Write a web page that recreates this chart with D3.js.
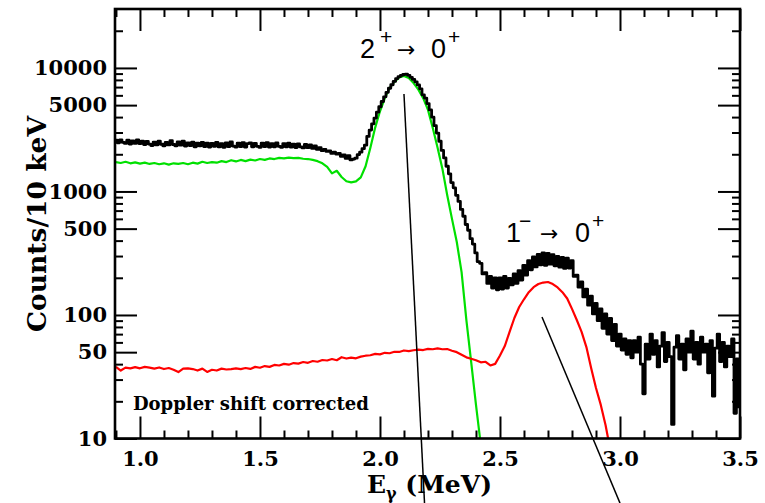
<!DOCTYPE html>
<html>
<head>
<meta charset="utf-8">
<script src="https://cdn.jsdelivr.net/npm/d3@7"></script>
<style>
  body { margin: 0; background: #fff; }
  svg { display: block; }
</style>
</head>
<body>
<svg id="chart" width="765" height="503"></svg>
<script>
// ---- Spectrum data (counts per 10 keV) ----
// Total spectrum, 10 keV bins starting at 0.90 MeV
const totalStart = 0.90;
const totalStep = 0.01;
const totalCounts = [
  2600, 2480, 2620, 2500, 2450, 2600, 2420, 2570, 2450, 2610,
  2440, 2560, 2400, 2540, 2420, 2350, 2510, 2380, 2560, 2410,
  2340, 2500, 2380, 2580, 2400, 2340, 2520, 2370, 2550, 2330,
  2470, 2350, 2510, 2300, 2460, 2340, 2490, 2310, 2460, 2290,
  2450, 2320, 2490, 2300, 2440, 2280, 2470, 2310, 2520, 2330,
  2290, 2460, 2310, 2480, 2290, 2440, 2470, 2300, 2450, 2320,
  2280, 2460, 2310, 2480, 2290, 2440, 2300, 2470, 2320, 2280,
  2440, 2300, 2460, 2290, 2420, 2270, 2430, 2300, 2250, 2400,
  2260, 2380, 2230, 2340, 2190, 2260, 2140, 2190, 2110, 2130,
  2030, 2080, 2010, 2030, 1920, 1980, 1850, 1950, 1800, 1830,
  1860, 1990, 2080, 2220, 2370, 2790, 3140, 3530, 3930, 4380,
  4850, 5350, 5840, 6350, 6850, 7310, 7780, 8200, 8490, 8710,
  8850, 8910, 8690, 8400, 8070, 7720, 7290, 6780, 6060, 5700,
  5150, 4570, 3990, 3410, 2970, 2550, 2150, 1870, 1600, 1390,
  1180, 1070, 930, 830, 715, 630, 540, 485, 415, 375,
  318, 270, 262, 215, 220, 180, 205, 165, 200, 160,
  200, 162, 205, 165, 198, 175, 215, 180, 228, 192,
  252, 210, 275, 232, 295, 245, 310, 255, 318, 252,
  315, 258, 308, 250, 298, 244, 292, 238, 288, 240,
  275, 205, 210, 168, 185, 140, 162, 120, 142, 102,
  124, 90, 112, 78, 102, 70, 94, 62, 84, 56,
  70, 52, 64, 48, 62, 45, 62, 50, 66, 40,
  23, 58, 44, 70, 48, 62, 38, 56, 72, 42,
  60, 46, 13, 55, 68, 44, 58, 36, 64, 50,
  74, 44, 60, 40, 66, 50, 58, 34, 62, 22,
  54, 70, 42, 60, 38, 56, 46, 64, 16, 44,
  18
];

// 2+ -> 0+ component, 20 keV steps starting at 0.90 MeV
const compStep = 0.02;
const twoPlusStart = 0.90;
const twoPlusCounts = [
  1730, 1700, 1740, 1690, 1720, 1680, 1710, 1670, 1700, 1660,
  1690, 1650, 1690, 1670, 1700, 1660, 1710, 1680, 1740, 1700,
  1730, 1710, 1760, 1730, 1790, 1750, 1800, 1760, 1810, 1780,
  1830, 1800, 1850, 1830, 1870, 1850, 1880, 1860, 1870, 1840,
  1830, 1800, 1760, 1690, 1580, 1400, 1470, 1310, 1210, 1185,
  1205, 1300, 1600, 2260, 3290, 4460, 5680, 6860, 7710, 8390,
  8620, 8300, 7540, 6670, 5700, 4570, 3260, 2260, 1530, 935,
  600, 390, 222, 91, 41.5, 18.7, 8.9
];

// 1- -> 0+ component, 20 keV steps starting at 0.90 MeV
const oneMinusStart = 0.90;
const oneMinusCounts = [
  38, 35.5, 37.5, 37, 37.8, 37, 38, 37.5, 36.8, 37.6,
  36.5, 37.2, 36, 34.5, 36.8, 37, 36.5, 35.5, 36.8, 34.6,
  36, 35.5, 36.8, 36.2, 36.5, 37, 36.4, 37.2, 36.6, 38,
  37.4, 38.6, 38, 39.4, 39, 40.2, 39.6, 40.8, 40.4, 41.6,
  41, 42.4, 41.8, 43.2, 42.8, 44, 43, 45.5, 44.4, 45.2,
  44.6, 46, 46.8, 47.2, 48.4, 48, 49.4, 49, 50.4, 50.2,
  51.6, 51, 51.8, 52.4, 52, 53.2, 52.8, 53.6, 52.8, 53,
  51.4, 50, 47.6, 45.4, 44.2, 43, 41.4, 41.8, 39, 40.2,
  47, 56, 73, 94.5, 116, 134, 153, 168, 178, 183,
  185, 178, 167, 153, 136, 112, 91, 73, 55, 37,
  25.6, 18.7, 12.8, 8
];

// ---- Axes ----
const energyDomain = [0.896, 3.5];
const countDomain = [10, 30000];
const energyMajorTicks = [1.0, 1.5, 2.0, 2.5, 3.0, 3.5];
const energyTickLabels = ["1.0", "1.5", "2.0", "2.5", "3.0", "3.5"];
const energyMinorTicks = [0.9, 1.1, 1.2, 1.3, 1.4, 1.6, 1.7, 1.8, 1.9, 2.1, 2.2, 2.3, 2.4,
                          2.6, 2.7, 2.8, 2.9, 3.1, 3.2, 3.3, 3.4];
const countMajorTicks = [10, 50, 100, 500, 1000, 5000, 10000];
const countTickLabels = ["10", "50", "100", "500", "1000", "5000", "10000"];
const countMinorTicks = [20, 30, 40, 60, 70, 80, 90, 200, 300, 400, 600, 700, 800, 900,
                         2000, 3000, 4000, 6000, 7000, 8000, 9000, 20000];

// Pointer lines from the two peaks (energy, counts)
const pointerLines = [
  { e1: 2.100, c1: 6150, e2: 2.1856, c2: 3.0 },
  { e1: 2.675, c1: 96.4, e2: 3.000, c2: 3.0 }
];

const svg = d3.select("#chart");
const L = 115, R = 740, T = 9, B = 438.5;

const x = d3.scaleLinear().domain(energyDomain).range([L, R]);
const y = d3.scaleLog().domain(countDomain).range([B, T]);

const serif = "'DejaVu Serif', serif";
const sans = "'Liberation Sans', Arial, sans-serif";

svg.append("rect").attr("width", 765).attr("height", 503).attr("fill", "#fff");

// clip for spectra
svg.append("clipPath").attr("id", "plotClip")
  .append("rect").attr("x", L).attr("y", T).attr("width", R - L).attr("height", B - T);

const plot = svg.append("g").attr("clip-path", "url(#plotClip)");

const lineTotal = d3.line()
  .x((d, i) => x(totalStart + i * totalStep))
  .y(d => y(d))
  .curve(d3.curveStep);

const lineComp = start => d3.line()
  .x((d, i) => x(start + i * compStep))
  .y(d => y(d));

plot.append("path").datum(twoPlusCounts)
  .attr("d", lineComp(twoPlusStart))
  .attr("fill", "none").attr("stroke", "#00e000").attr("stroke-width", 2.2)
  .attr("stroke-linejoin", "round");

plot.append("path").datum(oneMinusCounts)
  .attr("d", lineComp(oneMinusStart))
  .attr("fill", "none").attr("stroke", "#ff0000").attr("stroke-width", 2.2)
  .attr("stroke-linejoin", "round");

plot.append("path").datum(totalCounts)
  .attr("d", lineTotal)
  .attr("fill", "none").attr("stroke", "#000").attr("stroke-width", 2.8)
  .attr("stroke-linejoin", "round");

// axes with inward ticks
function styleAxis(g) {
  g.select(".domain").remove();
  g.selectAll(".tick line").attr("stroke", "#000").attr("stroke-width", 2);
  g.selectAll(".tick text")
    .attr("font-family", serif).attr("font-weight", "bold")
    .attr("font-size", 21).attr("fill", "#000");
}

// bottom
svg.append("g").attr("transform", `translate(0,${B})`)
  .call(d3.axisBottom(x).tickValues(energyMajorTicks).tickSizeInner(-22).tickSizeOuter(0)
    .tickPadding(13).tickFormat((d, i) => energyTickLabels[i]))
  .call(styleAxis);
svg.append("g").attr("transform", `translate(0,${B})`)
  .call(d3.axisBottom(x).tickValues(energyMinorTicks).tickSizeInner(-8).tickSizeOuter(0).tickFormat(""))
  .call(styleAxis);
// top
svg.append("g").attr("transform", `translate(0,${T})`)
  .call(d3.axisTop(x).tickValues(energyMajorTicks).tickSizeInner(-22).tickSizeOuter(0).tickFormat(""))
  .call(styleAxis);
svg.append("g").attr("transform", `translate(0,${T})`)
  .call(d3.axisTop(x).tickValues(energyMinorTicks).tickSizeInner(-8).tickSizeOuter(0).tickFormat(""))
  .call(styleAxis);
// left
svg.append("g").attr("transform", `translate(${L},0)`)
  .call(d3.axisLeft(y).tickValues(countMajorTicks).tickSizeInner(-22).tickSizeOuter(0)
    .tickPadding(8).tickFormat((d, i) => countTickLabels[i]))
  .call(styleAxis);
svg.append("g").attr("transform", `translate(${L},0)`)
  .call(d3.axisLeft(y).tickValues(countMinorTicks).tickSizeInner(-8).tickSizeOuter(0).tickFormat(""))
  .call(styleAxis);
// right
svg.append("g").attr("transform", `translate(${R},0)`)
  .call(d3.axisRight(y).tickValues(countMajorTicks).tickSizeInner(-22).tickSizeOuter(0).tickFormat(""))
  .call(styleAxis);
svg.append("g").attr("transform", `translate(${R},0)`)
  .call(d3.axisRight(y).tickValues(countMinorTicks).tickSizeInner(-8).tickSizeOuter(0).tickFormat(""))
  .call(styleAxis);

// frame
svg.append("rect").attr("x", L).attr("y", T).attr("width", R - L).attr("height", B - T)
  .attr("fill", "none").attr("stroke", "#000").attr("stroke-width", 2.6);

// pointer lines
svg.selectAll("line.pointer").data(pointerLines).join("line")
  .attr("class", "pointer")
  .attr("x1", d => x(d.e1)).attr("y1", d => y(d.c1))
  .attr("x2", d => x(d.e2)).attr("y2", d => y(d.c2))
  .attr("stroke", "#000").attr("stroke-width", 1.5);

// axis titles
svg.append("text")
  .attr("transform", "translate(46,224) rotate(-90)")
  .attr("text-anchor", "middle")
  .attr("font-family", serif).attr("font-weight", "bold").attr("font-size", 26.5)
  .text("Counts/10 keV");

const xlab = svg.append("text")
  .attr("x", 367).attr("y", 493)
  .attr("font-family", serif).attr("font-weight", "bold").attr("font-size", 25);
xlab.append("tspan").text("E");
xlab.append("tspan").attr("dy", 6).attr("font-size", 16).text("γ");
xlab.append("tspan").attr("dy", -6).text(" (MeV)");

// transition labels
function transition(x0, base, initial, initSup, final, finalSup, offsets) {
  const g = svg.append("g");
  g.append("text").attr("x", x0).attr("y", base)
    .attr("font-family", sans).attr("font-size", 27).text(initial);
  g.append("text").attr("x", x0 + offsets[0]).attr("y", base - 14)
    .attr("font-family", sans).attr("font-size", 21).text(initSup);
  g.append("text").attr("x", x0 + offsets[1]).attr("y", base - 1)
    .attr("font-family", "'DejaVu Sans', sans-serif").attr("font-size", 22).text("→");
  g.append("text").attr("x", x0 + offsets[2]).attr("y", base)
    .attr("font-family", sans).attr("font-size", 27).text(final);
  g.append("text").attr("x", x0 + offsets[3]).attr("y", base - 14)
    .attr("font-family", sans).attr("font-size", 21).text(finalSup);
}
transition(360, 58, "2", "+", "0", "+", [20, 37, 71, 88]);
transition(506, 242, "1", "−", "0", "+", [13, 34, 69, 86]);

svg.append("text").attr("x", 133).attr("y", 410)
  .attr("font-family", serif).attr("font-weight", "bold").attr("font-size", 18)
  .text("Doppler shift corrected");
</script>
</body>
</html>
